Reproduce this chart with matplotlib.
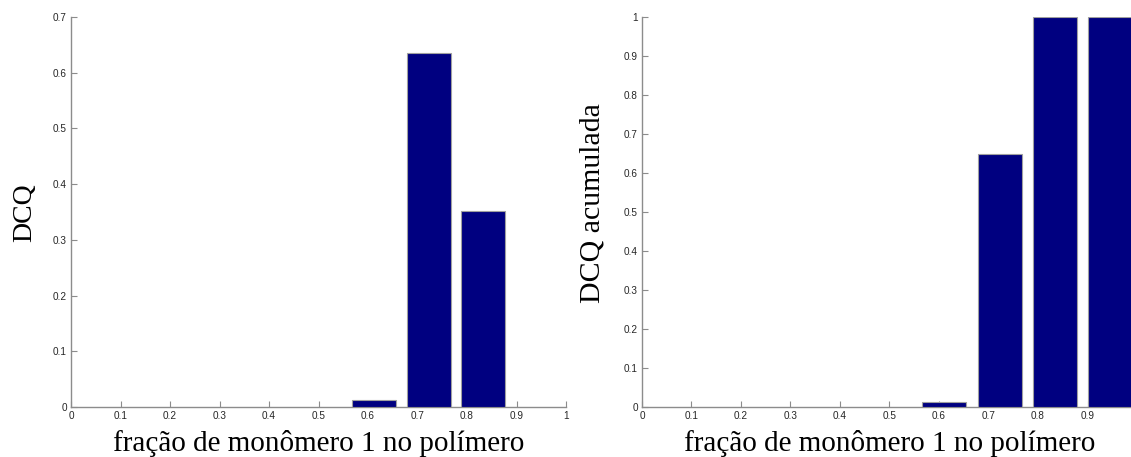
import numpy as np
import matplotlib
matplotlib.use('Agg')
import matplotlib.pyplot as plt

# histograma com 9 classes no intervalo [0, 1]
n_bins = 9
bin_index = [5, 6, 7]
dcq = [0.012, 0.636, 0.351]

bin_index_acum = [5, 6, 7, 8]
dcq_acum = [0.012, 0.648, 1.0, 1.0]

x_ticks_left = [0, 0.1, 0.2, 0.3, 0.4, 0.5, 0.6, 0.7, 0.8, 0.9, 1]
x_labels_left = ['0', '0.1', '0.2', '0.3', '0.4', '0.5', '0.6', '0.7', '0.8', '0.9', '1']
y_ticks_left = [0, 0.1, 0.2, 0.3, 0.4, 0.5, 0.6, 0.7]
y_labels_left = ['0', '0.1', '0.2', '0.3', '0.4', '0.5', '0.6', '0.7']

x_ticks_right = [0, 0.1, 0.2, 0.3, 0.4, 0.5, 0.6, 0.7, 0.8, 0.9]
x_labels_right = ['0', '0.1', '0.2', '0.3', '0.4', '0.5', '0.6', '0.7', '0.8', '0.9']
y_ticks_right = [0, 0.1, 0.2, 0.3, 0.4, 0.5, 0.6, 0.7, 0.8, 0.9, 1]
y_labels_right = ['0', '0.1', '0.2', '0.3', '0.4', '0.5', '0.6', '0.7', '0.8', '0.9', '1']

xlabel_txt = 'fração de monômero 1 no polímero'

BAR_COLOR = '#000080'
AXIS_COLOR = '#8c8c8c'
TICK_TXT = '#262626'


def style_axes(ax):
    for s in ['top', 'right']:
        ax.spines[s].set_visible(False)
    for s in ['left', 'bottom']:
        ax.spines[s].set_color(AXIS_COLOR)
        ax.spines[s].set_linewidth(1.0)
    ax.tick_params(direction='in', length=4, width=0.8, color=AXIS_COLOR,
                   labelsize=7.2, labelcolor=TICK_TXT, pad=3)
    for lab in ax.get_xticklabels() + ax.get_yticklabels():
        lab.set_family('Liberation Sans')


fig = plt.figure(figsize=(11.31, 4.57), dpi=100)

width = 1.0 / n_bins
centers = (np.array(bin_index) + 0.5) * width
centers_acum = (np.array(bin_index_acum) + 0.5) * width

# --- DCQ ---
ax1 = fig.add_axes([71 / 1131, 50 / 457, 495 / 1131, 390 / 457])
ax1.bar(centers, dcq, width=0.8 * width, color=BAR_COLOR, edgecolor='#a0a0a0',
        linewidth=0.8, zorder=3)
ax1.set_xlim(0, 1)
ax1.set_ylim(0, 0.7)
ax1.set_xticks(x_ticks_left)
ax1.set_xticklabels(x_labels_left)
ax1.set_yticks(y_ticks_left)
ax1.set_yticklabels(y_labels_left)
style_axes(ax1)
ax1.set_xlabel(xlabel_txt, family='Liberation Serif', fontsize=21)
ax1.xaxis.set_label_coords(0.5, -0.058, transform=ax1.transAxes)
ax1.xaxis.label.set_va('top')
ax1.set_ylabel('DCQ', family='Liberation Serif', fontsize=20)
ax1.yaxis.set_label_coords(-0.068, 0.497)

# --- DCQ acumulada ---
x_max_right = 489 / 495
ax2 = fig.add_axes([642 / 1131, 50 / 457, 489 / 1131, 390 / 457])
ax2.bar(centers_acum, dcq_acum, width=0.8 * width, color=BAR_COLOR,
        edgecolor='#a0a0a0', linewidth=0.8, zorder=3)
ax2.set_xlim(0, x_max_right)
ax2.set_ylim(0, 1)
ax2.set_xticks(x_ticks_right)
ax2.set_xticklabels(x_labels_right)
ax2.set_yticks(y_ticks_right)
ax2.set_yticklabels(y_labels_right)
style_axes(ax2)
ax2.set_xlabel(xlabel_txt, family='Liberation Serif', fontsize=21)
ax2.xaxis.set_label_coords(0.5 / x_max_right, -0.058, transform=ax2.transAxes)
ax2.xaxis.label.set_va('top')
ax2.set_ylabel('DCQ acumulada', family='Liberation Serif', fontsize=21.5)
ax2.yaxis.set_label_coords(-0.074 / x_max_right, 0.523)

fig.savefig('out.png', dpi=100)
